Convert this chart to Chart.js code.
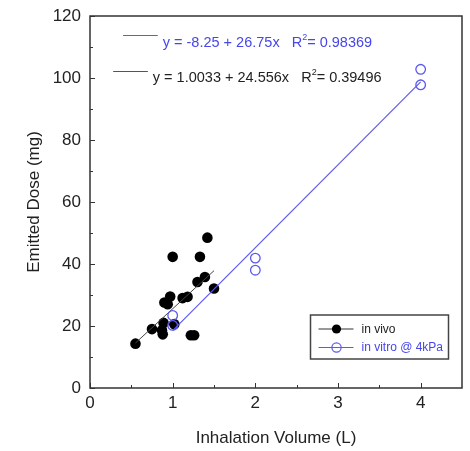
<!DOCTYPE html>
<html>
<head>
<meta charset="utf-8">
<script src="https://cdn.jsdelivr.net/npm/chart.js@4.4.0/dist/chart.umd.min.js"></script>
<style>
html,body{margin:0;padding:0;background:#fff;}
#wrap{width:470px;height:451px;position:relative;}
</style>
</head>
<body>
<div id="wrap"><canvas id="c"></canvas></div>
<script>
// ---- data ----
const vivoX = [0.55, 0.75, 0.88, 0.87, 0.89, 0.90, 0.94, 0.97, 1.00, 1.02, 1.12, 1.18, 1.22, 1.26, 1.30, 1.33, 1.39, 1.42, 1.50];
const vivoY = [14.3, 19.0, 17.3, 18.6, 21.0, 27.6, 27.0, 29.5, 42.3, 20.6, 29.0, 29.4, 17.0, 17.0, 34.2, 42.3, 35.8, 48.5, 32.1];
const vitroX = [1, 1, 2, 2, 4, 4];
const vitroY = [20.2, 23.4, 38.0, 41.9, 97.8, 102.8];
const fitVivoX = [0.55, 1.50];
const fitVivoY = [14.51, 37.84];
const fitVitroX = [1, 4];
const fitVitroY = [18.5, 98.75];
const xTicks = [0, 1, 2, 3, 4];
const yTicks = [0, 20, 40, 60, 80, 100, 120];
const xMinor = [0.5, 1.5, 2.5, 3.5];
const yMinor = [10, 30, 50, 70, 90, 110];
const eqVitro = ["y = -8.25 + 26.75x   R", "2", "= 0.98369"];
const eqVivo = ["y = 1.0033 + 24.556x   R", "2", "= 0.39496"];
const legendLabels = ["in vivo", "in vitro @ 4kPa"];

const BLUE = '#4646ea';
const BLUE_LINE = '#5a5af0';
const FONT = '"Liberation Sans", Arial, sans-serif';

const pts = (xs, ys) => xs.map((x, i) => ({x: x, y: ys[i]}));

const framePlugin = {
  id: 'frame',
  afterDraw(chart) {
    const {ctx, chartArea: a, scales: {x, y}} = chart;
    ctx.save();
    ctx.strokeStyle = '#333';
    ctx.lineWidth = 1.5;
    ctx.strokeRect(a.left, a.top, a.right - a.left, a.bottom - a.top);
    ctx.lineWidth = 1;
    ctx.beginPath();
    xTicks.forEach(v => { const p = Math.round(x.getPixelForValue(v)) + 0.5; ctx.moveTo(p, a.bottom); ctx.lineTo(p, a.bottom - 5); });
    xMinor.forEach(v => { const p = Math.round(x.getPixelForValue(v)) + 0.5; ctx.moveTo(p, a.bottom); ctx.lineTo(p, a.bottom - 3); });
    yTicks.forEach(v => { const p = Math.round(y.getPixelForValue(v)) + 0.5; ctx.moveTo(a.left, p); ctx.lineTo(a.left + 5, p); });
    yMinor.forEach(v => { const p = Math.round(y.getPixelForValue(v)) + 0.5; ctx.moveTo(a.left, p); ctx.lineTo(a.left + 3, p); });
    ctx.stroke();

    // equations
    const drawEq = (parts, color, lineColor, lx0, lx1, ly, tx, ty) => {
      ctx.strokeStyle = lineColor;
      ctx.lineWidth = 1;
      ctx.beginPath();
      const py = Math.round(y.getPixelForValue(ly)) + 0.5;
      ctx.moveTo(x.getPixelForValue(lx0), py);
      ctx.lineTo(x.getPixelForValue(lx1), py);
      ctx.stroke();
      ctx.fillStyle = color;
      ctx.textBaseline = 'alphabetic';
      ctx.textAlign = 'left';
      let px = x.getPixelForValue(tx);
      const by = y.getPixelForValue(ty);
      ctx.font = '14.5px ' + FONT;
      ctx.fillText(parts[0], px, by);
      px += ctx.measureText(parts[0]).width;
      ctx.font = '9px ' + FONT;
      ctx.fillText(parts[1], px, by - 7);
      px += ctx.measureText(parts[1]).width;
      ctx.font = '14.5px ' + FONT;
      ctx.fillText(parts[2], px, by);
    };
    drawEq(eqVitro, BLUE, BLUE_LINE, 0.40, 0.82, 113.8, 0.88, 110.0);
    drawEq(eqVivo, '#222', '#555', 0.28, 0.70, 102.3, 0.76, 98.8);

    // legend
    const bw = 138, bh = 44;
    const bx = a.right - 13.5 - bw, by = a.bottom - 29 - bh;
    ctx.strokeStyle = '#444';
    ctx.lineWidth = 1.5;
    ctx.strokeRect(bx, by, bw, bh);
    const rows = [
      {y: by + 14, line: '#333', fill: '#000', stroke: '#000', text: '#222'},
      {y: by + 32.5, line: BLUE_LINE, fill: null, stroke: BLUE_LINE, text: BLUE}
    ];
    rows.forEach((r, i) => {
      ctx.strokeStyle = r.line;
      ctx.lineWidth = 1;
      ctx.beginPath();
      ctx.moveTo(bx + 8, r.y);
      ctx.lineTo(bx + 43, r.y);
      ctx.stroke();
      ctx.beginPath();
      ctx.arc(bx + 26, r.y, 4.6, 0, Math.PI * 2);
      if (r.fill) { ctx.fillStyle = r.fill; ctx.fill(); }
      else { ctx.strokeStyle = r.stroke; ctx.lineWidth = 1.2; ctx.stroke(); }
      ctx.fillStyle = r.text;
      ctx.font = '12px ' + FONT;
      ctx.textBaseline = 'middle';
      ctx.fillText(legendLabels[i], bx + 51, r.y + 0.5);
    });
    ctx.restore();
  }
};

new Chart(document.getElementById('c'), {
  type: 'scatter',
  data: {
    datasets: [
      {label: 'fit in vivo', type: 'line', data: pts(fitVivoX, fitVivoY), borderColor: '#444', borderWidth: 1, pointRadius: 0, fill: false, order: 1},
      {label: 'fit in vitro', type: 'line', data: pts(fitVitroX, fitVitroY), borderColor: BLUE_LINE, borderWidth: 1.2, pointRadius: 0, fill: false, order: 1},
      {label: 'in vivo', data: pts(vivoX, vivoY), backgroundColor: '#000', borderColor: '#000', pointRadius: 5.3, pointBorderWidth: 0, order: 2},
      {label: 'in vitro @ 4kPa', data: pts(vitroX, vitroY), backgroundColor: 'rgba(0,0,0,0)', borderColor: BLUE_LINE, pointRadius: 4.8, pointBorderWidth: 1.3, order: 0}
    ]
  },
  options: {
    responsive: true,
    maintainAspectRatio: false,
    animation: false,
    layout: {padding: {top: 16, right: 8, left: 0, bottom: 0}},
    plugins: {legend: {display: false}, tooltip: {enabled: false}},
    scales: {
      x: {
        type: 'linear', min: 0, max: 4.5,
        grid: {display: false, drawTicks: false},
        border: {display: false},
        afterBuildTicks: s => { s.ticks = xTicks.map(v => ({value: v})); },
        afterFit: s => { s.height = 63; s.paddingLeft = 0; s.paddingRight = 0; },
        ticks: {color: '#222', font: {family: FONT, size: 17}, padding: 5, maxRotation: 0},
        title: {display: true, text: 'Inhalation Volume (L)', color: '#222', font: {family: FONT, size: 17}, padding: {top: 10, bottom: 2}}
      },
      y: {
        type: 'linear', min: 0, max: 120,
        grid: {display: false, drawTicks: false},
        border: {display: false},
        afterBuildTicks: s => { s.ticks = yTicks.map(v => ({value: v})); },
        afterFit: s => { s.width = 90; s.paddingTop = 0; s.paddingBottom = 0; },
        ticks: {color: '#222', font: {family: FONT, size: 17}, padding: 9},
        title: {display: true, text: 'Emitted Dose (mg)', color: '#222', font: {family: FONT, size: 17}, padding: {top: 24, bottom: 4}}
      }
    }
  },
  plugins: [framePlugin]
});
</script>
</body>
</html>
